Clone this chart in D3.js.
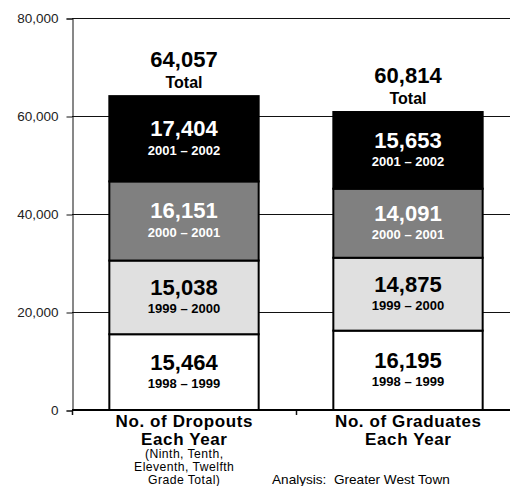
<!DOCTYPE html>
<html>
<head>
<meta charset="utf-8">
<script src="https://cdn.jsdelivr.net/npm/d3@7"></script>
<style>
  html, body { margin: 0; padding: 0; background: #fff; }
  svg { display: block; font-family: "Liberation Sans", Arial, Helvetica, sans-serif; }
  text { white-space: pre; }
</style>
</head>
<body>
<svg id="chart" width="510" height="486"></svg>
<script>
// Stacked school-year counts for the two groups
const categories = ["dropouts", "graduates"];
const categoryTitles = [["No. of Dropouts", "Each Year"], ["No. of Graduates", "Each Year"]];
const categoryNotes = [["(Ninth, Tenth,", "Eleventh, Twelfth", "Grade Total)"], []];
const years = ["1998 – 1999", "1999 – 2000", "2000 – 2001", "2001 – 2002"];
const dropouts = [15464, 15038, 16151, 17404];
const graduates = [16195, 14875, 14091, 15653];
const yTicks = [0, 20000, 40000, 60000, 80000];
const segmentFill = ["#ffffff", "#e0e0e0", "#808080", "#000000"];
const segmentText = ["#000000", "#000000", "#ffffff", "#ffffff"];
const credit = "Analysis:  Greater West Town";

const series = [dropouts, graduates];
const fmt = d3.format(",");

const svg = d3.select("#chart");
const x0 = 72, yTop = 18, yBase = 410;

const y = d3.scaleLinear().domain([0, 80000]).range([yBase, yTop]);
const x = d3.scaleBand().domain(categories).range([x0, 520])
  .paddingInner(1 / 3).paddingOuter(1 / 6);

// horizontal grid lines
svg.append("g")
  .selectAll("line")
  .data(yTicks)
  .join("line")
  .attr("x1", x0).attr("x2", 510)
  .attr("y1", d => Math.round(y(d)) + 0.5).attr("y2", d => Math.round(y(d)) + 0.5)
  .attr("stroke", "#111").attr("stroke-width", 1);

// y axis
const yAxis = svg.append("g")
  .attr("transform", `translate(${x0 + 0.5},0.5)`)
  .call(d3.axisLeft(y).tickValues(yTicks).tickFormat(fmt).tickSize(6).tickPadding(8));
yAxis.select(".domain").attr("stroke", "#111");
yAxis.selectAll(".tick line").attr("stroke", "#111");
yAxis.selectAll(".tick text")
  .attr("font-size", 13.5).attr("fill", "#222")
  .attr("font-family", "'Liberation Sans', Arial, sans-serif");

// x axis: baseline with small ticks at band edges
const xEdges = [x0, x0 + x.step(), x0 + 2 * x.step()];
svg.append("g")
  .selectAll("line")
  .data(xEdges)
  .join("line")
  .attr("x1", d => d + 0.5).attr("x2", d => d + 0.5)
  .attr("y1", yBase).attr("y2", yBase + 5)
  .attr("stroke", "#111").attr("stroke-width", 1.5);
svg.append("line")
  .attr("x1", x0).attr("x2", 510)
  .attr("y1", yBase).attr("y2", yBase)
  .attr("stroke", "#000").attr("stroke-width", 2);

// stacked bars
categories.forEach((cat, ci) => {
  const vals = series[ci];
  const bx = x(cat), bw = x.bandwidth(), cx = bx + bw / 2;
  const g = svg.append("g");
  let acc = 0;
  const stacks = vals.map((v, i) => {
    const s = { i, v, lo: acc, hi: acc + v };
    acc += v;
    return s;
  });

  g.selectAll("rect")
    .data(stacks)
    .join("rect")
    .attr("x", bx).attr("width", bw)
    .attr("y", d => y(d.hi)).attr("height", d => y(d.lo) - y(d.hi))
    .attr("fill", d => segmentFill[d.i])
    .attr("stroke", "#000").attr("stroke-width", 2);

  g.selectAll("text.val")
    .data(stacks)
    .join("text")
    .attr("class", "val")
    .attr("x", cx)
    .attr("y", d => (y(d.lo) + y(d.hi)) / 2 - 2.5)
    .attr("text-anchor", "middle")
    .attr("font-size", 22).attr("font-weight", "bold")
    .attr("fill", d => segmentText[d.i])
    .text(d => fmt(d.v));

  g.selectAll("text.yr")
    .data(stacks)
    .join("text")
    .attr("class", "yr")
    .attr("x", cx)
    .attr("y", d => (y(d.lo) + y(d.hi)) / 2 + 16)
    .attr("text-anchor", "middle")
    .attr("font-size", 13).attr("font-weight", "bold")
    .attr("fill", d => segmentText[d.i])
    .text(d => years[d.i]);

  // total above the bar
  const total = d3.sum(vals);
  g.append("text")
    .attr("x", cx).attr("y", y(total) - 29.5)
    .attr("text-anchor", "middle")
    .attr("font-size", 22).attr("font-weight", "bold")
    .text(fmt(total));
  g.append("text")
    .attr("x", cx).attr("y", y(total) - 8)
    .attr("text-anchor", "middle")
    .attr("font-size", 16).attr("font-weight", "bold")
    .text("Total");

  // category labels
  categoryTitles[ci].forEach((t, li) => {
    svg.append("text")
      .attr("x", cx + 0.3).attr("y", 427.3 + li * 17.2)
      .attr("text-anchor", "middle")
      .attr("font-size", 17).attr("font-weight", "bold")
      .attr("letter-spacing", 0.6)
      .text(t);
  });
  categoryNotes[ci].forEach((t, li) => {
    svg.append("text")
      .attr("x", cx + 0.2).attr("y", 458.4 + li * 12.7)
      .attr("text-anchor", "middle")
      .attr("font-size", 12.2).attr("letter-spacing", 0.45)
      .text(t);
  });
});

svg.append("text")
  .attr("x", 272).attr("y", 483.5)
  .attr("font-size", 13.6)
  .text(credit);
</script>
</body>
</html>
